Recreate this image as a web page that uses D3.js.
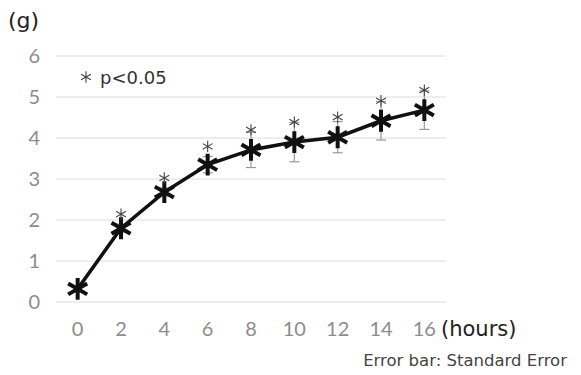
<!DOCTYPE html>
<html>
<head>
<meta charset="utf-8">
<script src="https://cdn.jsdelivr.net/npm/d3@7"></script>
<style>
  body { margin: 0; background: #fff; }
  svg text { font-family: Lato, "Noto Sans", sans-serif; }
  svg text.wide { font-family: "DejaVu Sans", sans-serif; }
</style>
</head>
<body>
<svg id="chart"></svg>
<script>
const size = {w: 581, h: 375};
const margin = {t: 56, r: 135, b: 73, l: 56};

// DATA
const hours = [0, 2, 4, 6, 8, 10, 12, 14, 16];
const means = [0.32, 1.8, 2.68, 3.35, 3.71, 3.9, 4.02, 4.42, 4.68];
const stdErr = [0.06, 0.1, 0.1, 0.2, 0.43, 0.48, 0.38, 0.47, 0.47];
const significant = [false, true, true, true, true, true, true, true, true];
const yTicks = [0, 1, 2, 3, 4, 5, 6];

const svg = d3.select('svg#chart')
    .attr('width', size.w)
    .attr('height', size.h);

const innerW = size.w - margin.l - margin.r;
const innerH = size.h - margin.t - margin.b;

const g = svg.append('g')
    .attr('transform', `translate(${margin.l}, ${margin.t})`);

const x = d3.scalePoint()
    .domain(hours)
    .range([0, innerW])
    .padding(0.5);

const y = d3.scaleLinear()
    .domain([0, 6])
    .range([innerH, 0]);

// gridlines
g.append('g')
    .selectAll('line')
    .data(yTicks)
    .join('line')
    .attr('x1', 0)
    .attr('x2', innerW)
    .attr('y1', d => y(d))
    .attr('y2', d => y(d))
    .attr('stroke', '#dcdcdc')
    .attr('stroke-width', 1);

// y tick labels
g.append('g')
    .selectAll('text')
    .data(yTicks)
    .join('text')
    .attr('x', -16)
    .attr('y', d => y(d))
    .attr('dy', '0.36em')
    .attr('text-anchor', 'end')
    .attr('fill', '#8c8c8c')
    .style('font-size', '20px')
    .text(d => d);

// x tick labels
g.append('g')
    .selectAll('text')
    .data(hours)
    .join('text')
    .attr('x', d => x(d))
    .attr('y', innerH + 34)
    .attr('text-anchor', 'middle')
    .attr('fill', '#8c8c8c')
    .style('font-size', '20px')
    .text(d => d);

// units
svg.append('text')
    .classed('wide', true)
    .attr('x', margin.l + innerW - 5)
    .attr('y', margin.t + innerH + 34)
    .attr('fill', '#222')
    .style('font-size', '21px')
    .text('(hours)');

svg.append('text')
    .classed('wide', true)
    .attr('x', 8)
    .attr('y', 28)
    .attr('fill', '#222')
    .style('font-size', '22px')
    .text('(g)');

svg.append('text')
    .classed('wide', true)
    .attr('x', 567)
    .attr('y', 366)
    .attr('text-anchor', 'end')
    .attr('fill', '#444')
    .style('font-size', '16.5px')
    .text('Error bar: Standard Error');

// error bars
const bars = g.append('g')
    .selectAll('g')
    .data(hours)
    .join('g')
    .attr('stroke', '#999')
    .attr('stroke-width', 1.2);

bars.append('line')
    .attr('x1', d => x(d)).attr('x2', d => x(d))
    .attr('y1', (d, i) => y(means[i] + stdErr[i]))
    .attr('y2', (d, i) => y(means[i] - stdErr[i]));

bars.append('line')
    .attr('x1', d => x(d) - 5).attr('x2', d => x(d) + 5)
    .attr('y1', (d, i) => y(means[i] + stdErr[i]))
    .attr('y2', (d, i) => y(means[i] + stdErr[i]));

bars.append('line')
    .attr('x1', d => x(d) - 5).attr('x2', d => x(d) + 5)
    .attr('y1', (d, i) => y(means[i] - stdErr[i]))
    .attr('y2', (d, i) => y(means[i] - stdErr[i]));

// line
const line = d3.line()
    .x((d, i) => x(hours[i]))
    .y(d => y(d));

g.append('path')
    .datum(means)
    .attr('d', line)
    .attr('fill', 'none')
    .attr('stroke', '#111')
    .attr('stroke-width', 3.5);

// markers
const bigStar = d3.symbol(d3.symbolAsterisk, 340);
g.append('g')
    .selectAll('path')
    .data(hours)
    .join('path')
    .attr('d', bigStar)
    .attr('transform', (d, i) => `translate(${x(d)}, ${y(means[i])})`)
    .attr('fill', 'none')
    .attr('stroke', '#111')
    .attr('stroke-width', 4);

// significance asterisks
const smallStar = d3.symbol(d3.symbolAsterisk, 90);
g.append('g')
    .selectAll('path')
    .data(hours.filter((d, i) => significant[i]))
    .join('path')
    .attr('d', smallStar)
    .attr('transform', d => {
        let i = hours.indexOf(d);
        let top = Math.max(y(means[i] + stdErr[i]), y(means[i]) - 10);
        return `translate(${x(d)}, ${top - 10})`;
    })
    .attr('fill', 'none')
    .attr('stroke', '#444')
    .attr('stroke-width', 1.1);

// legend
svg.append('path')
    .attr('d', smallStar)
    .attr('transform', 'translate(86, 77)')
    .attr('fill', 'none')
    .attr('stroke', '#444')
    .attr('stroke-width', 1.1);

svg.append('text')
    .classed('wide', true)
    .attr('x', 100)
    .attr('y', 84)
    .attr('fill', '#333')
    .style('font-size', '18px')
    .text('p<0.05');
</script>
</body>
</html>
